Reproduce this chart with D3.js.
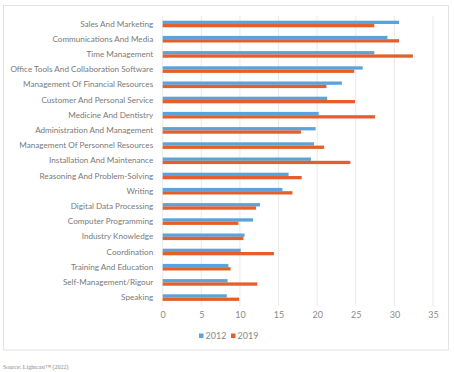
<!DOCTYPE html>
<html><head><meta charset="utf-8">
<script src="https://cdn.jsdelivr.net/npm/d3@7"></script>
<style>body{margin:0;background:#fff}svg{display:block}</style>
</head><body>
<script>
const categories = ["Sales And Marketing","Communications And Media","Time Management","Office Tools And Collaboration Software","Management Of Financial Resources","Customer And Personal Service","Medicine And Dentistry","Administration And Management","Management Of Personnel Resources","Installation And Maintenance","Reasoning And Problem-Solving","Writing","Digital Data Processing","Computer Programming","Industry Knowledge","Coordination","Training And Education","Self-Management/Rigour","Speaking"];
const values2012 = [30.6,29.1,27.4,25.9,23.2,21.3,20.2,19.8,19.6,19.2,16.3,15.5,12.6,11.7,10.6,10.1,8.5,8.4,8.3];
const values2019 = [27.4,30.6,32.4,24.8,21.2,24.9,27.5,17.9,20.9,24.3,18.0,16.8,12.1,9.8,10.45,14.4,8.8,12.25,9.9];
const seriesNames = ["2012","2019"];
const xTicks = [0,5,10,15,20,25,30,35];
const colors = ["#5BA3D9","#E55F2B"];

const W=454,H=372;
const svg=d3.select("body").append("svg").attr("width",W).attr("height",H);
svg.append("rect").attr("x",3.5).attr("y",5.5).attr("width",445).attr("height",344.5)
  .attr("fill","#fff").attr("stroke","#e3e3e3");

const x=d3.scaleLinear().domain([0,35]).range([162.7,433]);
const y=d3.scaleBand().domain(categories).range([16.4,305.2]).padding(0);
const inner=d3.scaleBand().domain(seriesNames).range([0,6.6]);
const off=(y.bandwidth()-6.6)/2;

// gridlines
svg.append("g").selectAll("line").data(xTicks).join("line")
  .attr("x1",d=>x(d)).attr("x2",d=>x(d)).attr("y1",16).attr("y2",306)
  .attr("stroke","#e4e4e4").attr("stroke-width",0.8);

// x axis labels
const xa=svg.append("g").attr("transform","translate(0,306)")
  .call(d3.axisBottom(x).tickValues(xTicks).tickSize(0).tickPadding(6));
xa.select(".domain").remove();
xa.selectAll("text").attr("fill","#8a8a8a").style("font-family","Lato, 'Open Sans', sans-serif").style("font-size","9px");

// bars
const data=[values2012,values2019];
data.forEach((vals,si)=>{
  svg.append("g").selectAll("rect").data(categories).join("rect")
    .attr("x",x(0)).attr("y",(c)=>y(c)+off+inner(seriesNames[si]))
    .attr("width",(c,i)=>x(vals[i])-x(0)).attr("height",inner.bandwidth())
    .attr("fill",colors[si]);
});

// y labels
const ya=svg.append("g").attr("transform",`translate(${x(0)},0)`)
  .call(d3.axisLeft(y).tickSize(0).tickPadding(9.5));
ya.select(".domain").remove();
const lbl=ya.selectAll("text").attr("fill","#7a7a7a").style("font-family","Lato, 'Open Sans', sans-serif").style("font-size","9px");
let maxW=0; lbl.each(function(){maxW=Math.max(maxW,this.getComputedTextLength());});
const fs=9*143/maxW;
lbl.style("font-size",fs+"px");

// legend
const lg=svg.append("g").style("font-family","Lato, 'Open Sans', sans-serif").style("font-size","9px");
const lx=[199,231];
seriesNames.forEach((s,i)=>{
  lg.append("rect").attr("x",lx[i]).attr("y",333.5).attr("width",4.5).attr("height",4.5).attr("fill",colors[i]);
  lg.append("text").attr("x",lx[i]+6.5).attr("y",339).attr("fill","#8a8a8a").text(s);
});

// source
svg.append("text").attr("x",3).attr("y",369).attr("fill","#8a8a8a")
  .style("font-family","'Liberation Serif', 'DejaVu Serif', serif").style("font-size","6px")
  .text("Source: Lightcast\u2122 (2022)");
</script>
</body></html>
